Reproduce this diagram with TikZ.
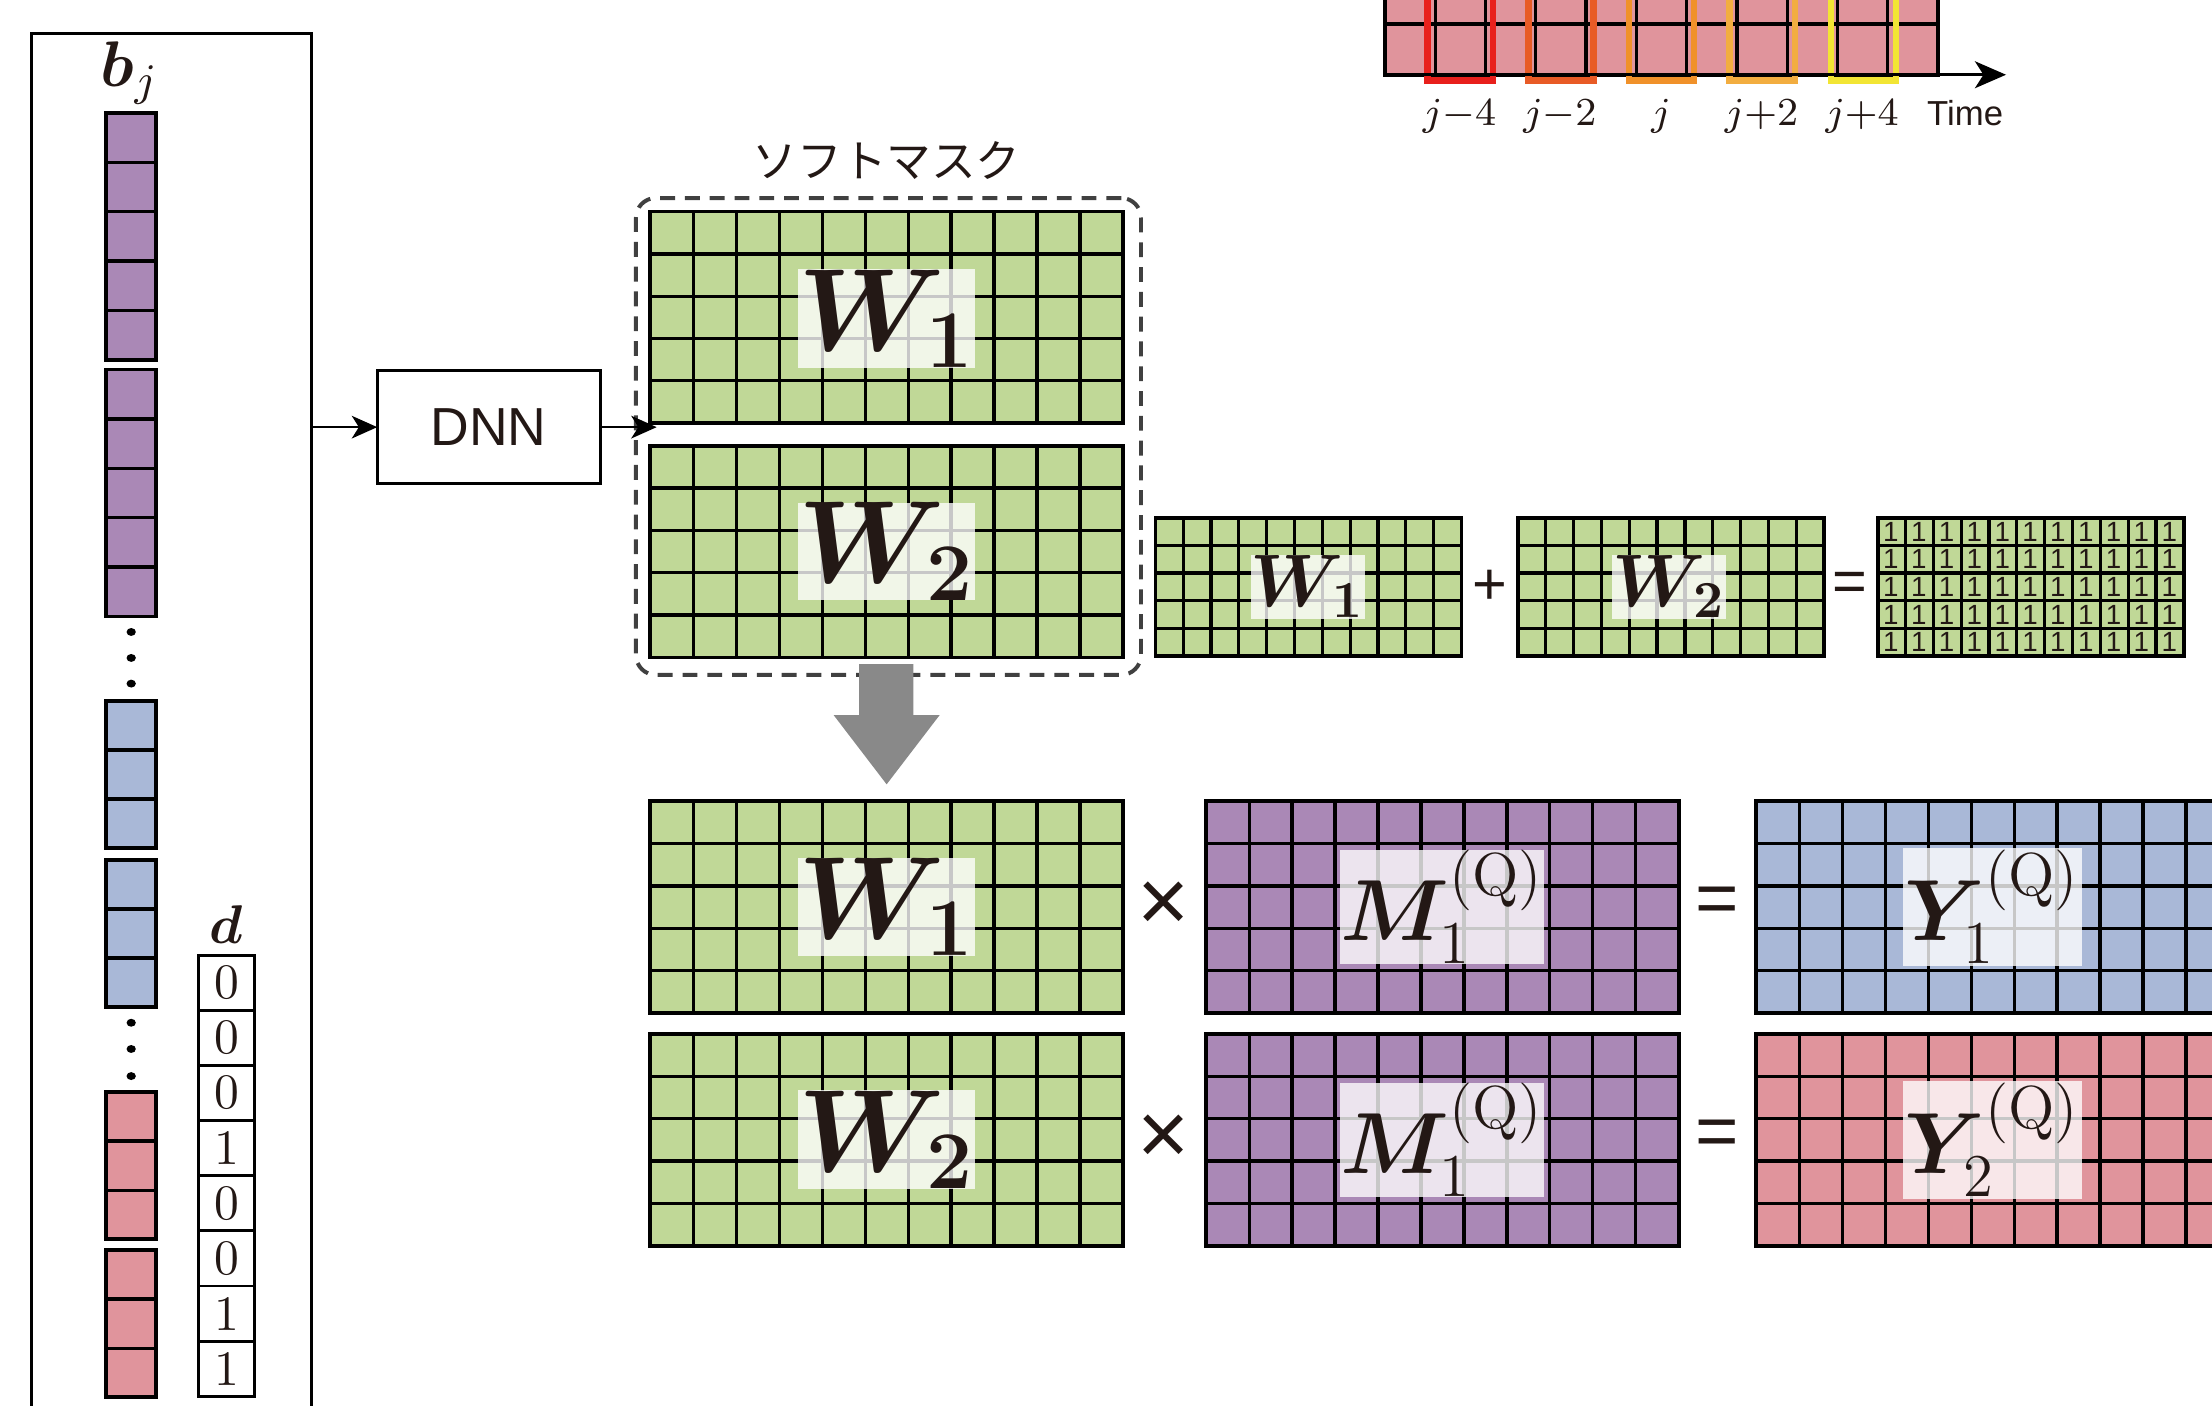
\RequirePackage{fix-cm}
\documentclass[tikz,border=0pt]{standalone}
\usepackage{fontspec}
\usepackage{amsmath,bm}
\usetikzlibrary{arrows.meta}
\newfontfamily\jpfont{Noto Sans CJK JP}
\newfontfamily\labelsans{Liberation Sans}

\definecolor{ink}{RGB}{35,24,21}
\definecolor{cgreen}{RGB}{192,216,151}
\definecolor{cpurple}{RGB}{170,136,182}
\definecolor{cblue}{RGB}{169,184,215}
\definecolor{cpink}{RGB}{224,148,156}
\definecolor{fred}{RGB}{232,32,28}
\definecolor{forange}{RGB}{232,91,38}
\definecolor{famber}{RGB}{240,145,42}
\definecolor{flight}{RGB}{242,173,64}
\definecolor{fyellow}{RGB}{242,229,52}
\definecolor{dashgray}{RGB}{64,64,64}
\definecolor{arrgray}{RGB}{137,137,137}

\tikzset{
  matcell/.style={draw=black, line width=0.75pt, inner sep=0pt, outer sep=0pt},
  gridline/.style={draw=black, line width=0.65pt},
  lbl/.style={fill=white, fill opacity=0.78, text opacity=1, inner sep=0pt, text=ink},
  plainbox/.style={draw=black, line width=0.6pt, inner sep=0pt, outer sep=0pt},
  conn/.style={draw=black, line width=0.5pt, -{Stealth[length=1.8mm, width=1.6mm, inset=0.5mm]}},
  frame/.style={line width=0.45mm},
  opsym/.style={text=ink, inner sep=0pt},
  jlab/.style={text=ink, inner sep=0pt, anchor=base, font=\fontsize{8}{10}\selectfont},
}

% a coloured matrix: name, x, y (top left), width, height, columns, rows, colour
\newcommand\gridmat[8]{%
  \node[matcell, fill=#8, minimum width=#4*0.1mm, minimum height=#5*0.1mm,
        anchor=north west] (#1) at (#2,#3) {};
  \pgfmathtruncatemacro\gmc{#6-1}%
  \pgfmathtruncatemacro\gmr{#7-1}%
  \ifnum\gmc>0
    \foreach \i in {1,...,\gmc}
      \draw[gridline] (#1.north west) ++(\i*#4/#6,0) -- ++(0,#5);
  \fi
  \ifnum\gmr>0
    \foreach \j in {1,...,\gmr}
      \draw[gridline] (#1.north west) ++(0,\j*#5/#7) -- ++(#4,0);
  \fi
}

\begin{document}
\begin{tikzpicture}[x=0.1mm, y=-0.1mm]
\useasboundingbox (0,0) rectangle (1568,996);

% ---------- input features ----------
\node[plainbox, minimum width=199*0.1mm, minimum height=990*0.1mm, anchor=north west]
  (inbox) at (22,24) {};
\node[text=ink, inner sep=0pt, anchor=base] (blab) at (92,61)
  {\fontsize{13}{15}\selectfont$\bm{b}_{j}$};

\gridmat{pa}{75}{80}{35.5}{175}{1}{5}{cpurple}
\gridmat{pb}{75}{262}{35.5}{175}{1}{5}{cpurple}
\gridmat{ba}{75}{497}{35.5}{104}{1}{3}{cblue}
\gridmat{bb}{75}{609.5}{35.5}{104.5}{1}{3}{cblue}
\gridmat{ra}{75}{774}{35.5}{104.5}{1}{3}{cpink}
\gridmat{rb}{75}{886}{35.5}{104.5}{1}{3}{cpink}

\foreach \y in {448,466.4,484.6,725,743.6,762.8}
  \fill[black] (93,\y) ellipse [x radius=3.3, y radius=2.8];

% ---------- indicator vector ----------
\node[text=ink, inner sep=0pt, anchor=base] (dlab) at (160.5,669)
  {\fontsize{11}{13}\selectfont$\bm{d}$};
\foreach \v [count=\k from 0] in {0,0,0,1,0,0,1,1} {
  \node[plainbox, fill=white, minimum width=39.5*0.1mm, minimum height=39.1*0.1mm,
        anchor=north west, text=ink, font=\fontsize{10}{12}\selectfont]
    (d\k) at (141,677+\k*39.1) {\v};
}

% ---------- network ----------
\node[plainbox, minimum width=158*0.1mm, minimum height=80*0.1mm, text=ink,
      font=\labelsans\fontsize{10.8}{12}\selectfont] (dnn) at (346.4,302.8) {DNN};
\draw[conn] (inbox.east |- dnn.west) -- (dnn.west);

% ---------- soft masks ----------
\node[draw=dashgray, line width=0.8pt, dash pattern=on 3pt off 2pt, rounded corners=1.4mm,
      minimum width=358*0.1mm, minimum height=338*0.1mm, anchor=north west, inner sep=0pt]
  (maskbox) at (449.4,139) {};
\node[text=ink, inner sep=0pt, font=\jpfont\fontsize{9}{11}\selectfont]
  (masklab) at (628.5,114) {ソフトマスク};

\gridmat{wt}{461}{150}{335}{150}{11}{5}{cgreen}
\gridmat{wu}{461}{316}{335}{150}{11}{5}{cgreen}
\node[lbl, minimum width=107*0.1mm, minimum height=70*0.1mm] (wtl) at (628.5,226)
  {\fontsize{23.6}{26}\selectfont$\bm{W}_{\bm{1}}$};
\node[lbl, minimum width=107*0.1mm, minimum height=68*0.1mm] (wul) at (628.5,391)
  {\fontsize{23.6}{26}\selectfont$\bm{W}_{\bm{2}}$};

\coordinate (wtip) at (465.5,302.8);
\draw[conn] (dnn.east) -- (wtip);

% block arrow down
\fill[arrgray] (609,470.7) -- (647.5,470.7) -- (647.5,507) -- (666,507)
  -- (628.5,556) -- (591,507) -- (609,507) -- cycle;

% ---------- sum-to-one constraint ----------
\gridmat{sa}{819}{367}{217}{98}{11}{5}{cgreen}
\gridmat{sb}{1076}{367}{217}{98}{11}{5}{cgreen}
\gridmat{so}{1331}{367}{217}{98}{11}{5}{cgreen}
\node[lbl, minimum width=69*0.1mm, minimum height=45*0.1mm] (sal) at (927,416)
  {\fontsize{15}{17}\selectfont$\bm{W}_{\bm{1}}$};
\node[lbl, minimum width=70*0.1mm, minimum height=45*0.1mm] (sbl) at (1183,416)
  {\fontsize{15}{17}\selectfont$\bm{W}_{\bm{2}}$};
\node[opsym, font=\labelsans\fontsize{12}{14}\selectfont] (plus) at (1056,416) {+};
\node[opsym, font=\labelsans\fontsize{12}{14}\selectfont] (eqs) at (1311,416) {=};
\foreach \i in {0,...,10}
  \foreach \j in {0,...,4}
    \node[opsym, font=\labelsans\fontsize{5.6}{7}\selectfont] (one-\i-\j)
      at (1331+\i*19.727+9.4, 367+\j*19.6+9.8) {1};

% ---------- masking ----------
\gridmat{wa}{461}{568}{335}{150}{11}{5}{cgreen}
\gridmat{wb}{461}{733}{335}{150}{11}{5}{cgreen}
\gridmat{ma}{855}{568}{335}{150}{11}{5}{cpurple}
\gridmat{mb}{855}{733}{335}{150}{11}{5}{cpurple}
\gridmat{ya}{1245}{568}{335}{150}{11}{5}{cblue}
\gridmat{yb}{1245}{733}{335}{150}{11}{5}{cpink}

\node[lbl, minimum width=107*0.1mm, minimum height=70*0.1mm] (wal) at (628.5,643)
  {\fontsize{23.6}{26}\selectfont$\bm{W}_{\bm{1}}$};
\node[lbl, minimum width=107*0.1mm, minimum height=70*0.1mm] (wbl) at (628.5,808)
  {\fontsize{23.6}{26}\selectfont$\bm{W}_{\bm{2}}$};
\node[lbl, minimum width=143*0.1mm, minimum height=80*0.1mm] (mal) at (1022.5,643)
  {\fontsize{17.5}{20}\selectfont$\bm{M}_{1}^{(\mathrm{Q})}$};
\node[lbl, minimum width=143*0.1mm, minimum height=80*0.1mm] (mbl) at (1022.5,808)
  {\fontsize{17.5}{20}\selectfont$\bm{M}_{1}^{(\mathrm{Q})}$};
\node[lbl, minimum width=127*0.1mm, minimum height=84*0.1mm] (yal) at (1412.5,643)
  {\fontsize{17.5}{20}\selectfont$\bm{Y}_{1}^{(\mathrm{Q})}$};
\node[lbl, minimum width=127*0.1mm, minimum height=84*0.1mm] (ybl) at (1412.5,808)
  {\fontsize{17.5}{20}\selectfont$\bm{Y}_{2}^{(\mathrm{Q})}$};

\node[opsym, font=\labelsans\fontsize{18}{20}\selectfont] (xa) at (825,643) {×};
\node[opsym, font=\labelsans\fontsize{18}{20}\selectfont] (xb) at (825,808) {×};
\node[opsym, font=\labelsans\fontsize{15}{17}\selectfont] (ea) at (1217,642) {=};
\node[opsym, font=\labelsans\fontsize{15}{17}\selectfont] (eb) at (1217,807) {=};

% ---------- time frames ----------
\gridmat{tg}{981.7}{-19}{392.1}{72}{11}{2}{cpink}
\draw[frame, draw=fred]    (1011.8,-10) rectangle (1058.2,57);
\draw[frame, draw=forange] (1083.5,-10) rectangle (1129.5,57);
\draw[frame, draw=famber]  (1154.8,-10) rectangle (1200.6,57);
\draw[frame, draw=flight]  (1225.9,-10) rectangle (1272.5,57);
\draw[frame, draw=fyellow] (1297.7,-10) rectangle (1343.9,57);
\coordinate (taxis) at (1422,53);
\draw[line width=0.7mm*0.35, -{Stealth[length=2.2mm, width=1.9mm, inset=0.6mm]}]
  (tg.south west) -- (taxis);

\node[jlab] (jm4) at (1034.6,89) {$j{-}4$};
\node[jlab] (jm2) at (1105.8,89) {$j{-}2$};
\node[jlab] (j0)  at (1177.4,89) {$j$};
\node[jlab] (jp2) at (1248.7,89) {$j{+}2$};
\node[jlab] (jp4) at (1320,89)   {$j{+}4$};
\node[text=ink, inner sep=0pt, anchor=base, font=\labelsans\fontsize{7}{8}\selectfont]
  (time) at (1393,89) {Time};
\end{tikzpicture}
\end{document}
